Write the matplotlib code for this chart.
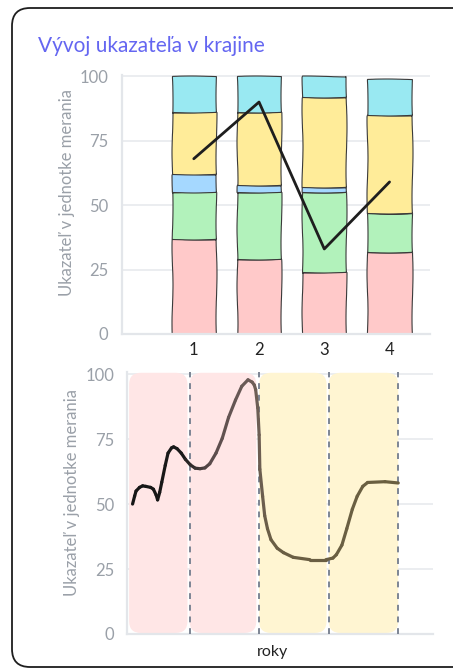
import matplotlib
matplotlib.use("Agg")
import numpy as np
import matplotlib.pyplot as plt
from matplotlib.patches import FancyBboxPatch
from matplotlib.collections import LineCollection
from matplotlib.colors import LinearSegmentedColormap

plt.rcParams['font.family'] = ['Lato', 'DejaVu Sans']

# --- data ---
years = [1, 2, 3, 4]
year_labels = ["1", "2", "3", "4"]

pink = [37, 29, 24, 32]
green = [18, 26, 31, 15]
blue = [7, 3, 2, 0]
yellow = [24, 28, 35, 38]
cyan = [14, 14, 8, 14]
line_vals = [68, 90, 33, 59]

curve_x = [0.18, 0.21, 0.23, 0.28, 0.325, 0.37, 0.44, 0.48, 0.52, 0.54, 0.57,
           0.60, 0.65, 0.69, 0.74, 0.77, 0.82, 0.88, 0.94, 1.01, 1.08, 1.15,
           1.22, 1.29, 1.38, 1.47, 1.56, 1.66, 1.75, 1.84, 1.90, 1.93, 1.95,
           1.98, 2.00, 2.01, 2.05, 2.08, 2.12, 2.17, 2.26, 2.35, 2.49, 2.73,
           2.96, 3.06, 3.11, 3.19, 3.26, 3.34, 3.41, 3.49, 3.56, 3.81, 4.00]
curve_y = [50, 53.1, 55, 56.4, 57, 56.8, 56.4, 55.7, 53.4, 51.6, 54.5,
           58.4, 64.9, 69.6, 71.6, 72, 71.3, 69.6, 67.2, 65.1, 63.8, 63.6,
           63.9, 65.5, 69.6, 75.3, 83.3, 90, 95.3, 97.8, 96.9, 95.8, 94,
           87, 76.6, 63.4, 53, 45.5, 40.5, 36.3, 33, 31.3, 29.5, 28.6,
           28.6, 29.2, 30.5, 34.2, 40.5, 48, 53, 56.8, 58.3, 58.6, 58.1]

# background periods (start, end, colour)
periods = [(0.13, 0.97, '#ffe6e6'), (1.0, 1.96, '#ffe6e6'),
           (2.0, 2.97, '#fff5d2'), (3.0, 4.0, '#fff5d2')]

stack = [pink, green, blue, yellow, cyan]
stack_colors = ['#ffc9c9', '#b2f2bb', '#a5d8ff', '#ffec99', '#99e9f2']

grid_c = '#e9ecef'
tick_c = '#9aa0a8'

fig = plt.figure(figsize=(4.53, 6.69), dpi=100)

# card frame
bg = fig.add_axes([0, 0, 1, 1])
bg.set_xlim(0, 453)
bg.set_ylim(669, 0)
bg.axis('off')
bg.add_patch(FancyBboxPatch((12, 8), 470, 659, boxstyle="round,pad=0,rounding_size=18",
                            fc='white', ec='#1e1e1e', lw=1.3))

fig.text(38 / 453, 1 - 46 / 669, "Vývoj ukazateľa v krajine", fontsize=15,
         color='#6466f1', va='center', ha='left')

# --- top: stacked bars ---
ax1 = fig.add_axes([122 / 453, 1 - 334 / 669, 308 / 453, 259 / 669])
bottom = np.zeros(len(years))
for vals, c in zip(stack, stack_colors):
    bars = ax1.bar(years, vals, bottom=bottom, width=0.68, color=c,
                   edgecolor='#3a3a3a', linewidth=0.8, zorder=2)
    for b in bars:
        b.set_sketch_params(0.5, 90, 2)
    bottom += np.array(vals)
ax1.plot(years, line_vals, color='#1e1e1e', lw=2, solid_capstyle='round', zorder=5)
ax1.set_xlim(-0.1, 4.62)
ax1.set_ylim(0, 100.5)
ax1.set_yticks([0, 25, 50, 75, 100])
ax1.set_xticks(years)
ax1.set_xticklabels(year_labels)
ax1.grid(axis='y', color=grid_c, lw=1.3)
ax1.set_axisbelow(True)
for s in ['top', 'right']:
    ax1.spines[s].set_visible(False)
for s in ['left', 'bottom']:
    ax1.spines[s].set_color('#e3e6ea')
    ax1.spines[s].set_linewidth(1.6)
ax1.tick_params(axis='y', length=0, labelsize=12, labelcolor=tick_c, pad=10)
ax1.tick_params(axis='x', length=0, labelsize=12, labelcolor='#222222', pad=6)

fig.text(67 / 453, 1 - 193 / 669, "Ukazateľ v jednotke merania", rotation=90,
         fontsize=12, color=tick_c, ha='center', va='center')

# --- bottom: curve over periods ---
ax2 = fig.add_axes([127 / 453, 1 - 634 / 669, 306 / 453, 262 / 669])
ax2.set_xlim(0.1, 4.5)
ax2.set_ylim(0, 100.8)
for x0, x1, c in periods:
    ax2.add_patch(FancyBboxPatch((x0, 0.4), x1 - x0, 100.1,
                                 boxstyle="round,pad=0,rounding_size=0.17",
                                 mutation_aspect=26.7, fc=c, ec='none', zorder=1))
for yr in years:
    ax2.axvline(yr, color='#7d8594', lw=1.4, ls=(0, (3, 3)), zorder=3)

pts = np.column_stack([curve_x, curve_y])
segs = np.stack([pts[:-1], pts[1:]], axis=1)
cmap = LinearSegmentedColormap.from_list(
    'ink', [(0, '#151515'), (0.2, '#1a1a1a'), (0.3, '#5a4b4b'),
            (0.45, '#6e5e5a'), (0.52, '#6a5e44'), (1, '#6a5f40')])
mid = (np.array(curve_x[:-1]) + np.array(curve_x[1:])) / 2
lc = LineCollection(segs, colors=cmap((mid - 0.1) / 4.0), lw=2.3,
                    capstyle='round', joinstyle='round', zorder=4)
ax2.add_collection(lc)

ax2.set_yticks([0, 25, 50, 75, 100])
ax2.set_xticks(years)
ax2.set_xticklabels([])
ax2.grid(axis='y', color=grid_c, lw=1.3)
ax2.set_axisbelow(True)
for s in ['top', 'right']:
    ax2.spines[s].set_visible(False)
for s in ['left', 'bottom']:
    ax2.spines[s].set_color('#e3e6ea')
    ax2.spines[s].set_linewidth(1.6)
ax2.tick_params(axis='y', length=0, labelsize=12, labelcolor=tick_c, pad=9)
ax2.tick_params(axis='x', length=0)

fig.text(72 / 453, 1 - 492 / 669, "Ukazateľ v jednotke merania", rotation=90,
         fontsize=12, color=tick_c, ha='center', va='center')
fig.text(272 / 453, 1 - 652 / 669, "roky", fontsize=11.5, color='#222222',
         ha='center', va='center')

fig.savefig("out.png", dpi=100)
